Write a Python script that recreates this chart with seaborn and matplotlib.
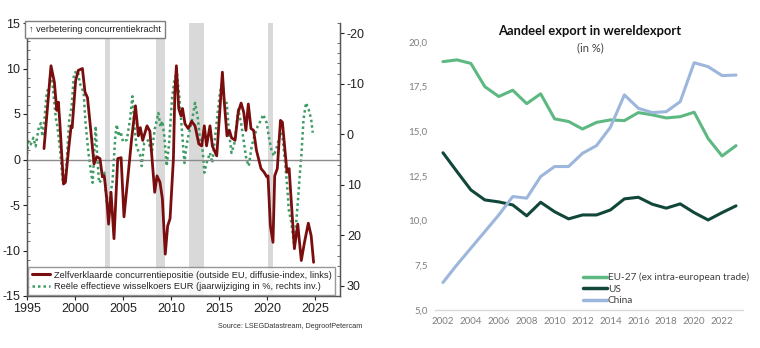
import numpy as np
import pandas as pd
import matplotlib
matplotlib.use('Agg')
import matplotlib.pyplot as plt
import seaborn as sns
from matplotlib.lines import Line2D
from matplotlib.ticker import MultipleLocator, FuncFormatter

# ---------------- Left panel data ----------------
red_t = [1996.77, 1997.5, 1997.85, 1998.1, 1998.27, 1998.44, 1998.8, 1999.0, 1999.3, 1999.6,
         1999.7, 2000.07, 2000.35, 2000.77, 2001.04, 2001.3, 2001.7, 2001.98, 2002.26, 2002.6,
         2002.85, 2003.05, 2003.3, 2003.5, 2003.75, 2004.06, 2004.45, 2004.8, 2005.1, 2005.56,
         2005.9, 2006.3, 2006.6, 2006.8, 2007.05, 2007.5, 2007.8, 2008.0, 2008.3, 2008.54,
         2008.85, 2009.1, 2009.4, 2009.65, 2009.9, 2010.25, 2010.4, 2010.56, 2010.8, 2011.04,
         2011.2, 2011.46, 2011.8, 2012.15, 2012.5, 2012.9, 2013.2, 2013.47, 2013.7, 2014.06,
         2014.3, 2014.76, 2015.1, 2015.35, 2015.55, 2015.83, 2016.08, 2016.3, 2016.67, 2017.0,
         2017.3, 2017.57, 2017.8, 2018.05, 2018.33, 2018.6, 2018.9, 2019.375, 2019.7, 2019.97,
         2020.1, 2020.35, 2020.62, 2020.8, 2021.07, 2021.4, 2021.6, 2022.08, 2022.3, 2022.85,
         2023.2, 2023.57, 2023.9, 2024.3, 2024.6, 2024.85]
red_v = [1.2, 10.3, 8.5, 5.4, 6.3, 3.7, -2.7, -2.5, 0.8, 3.7,
         3.5, 8.7, 9.8, 10.0, 7.4, 6.8, 2.6, -0.5, 0.3, 0.1,
         -1.9, -1.8, -4.3, -7.1, -3.6, -8.7, 0.1, 0.2, -6.3, -1.4,
         2.3, 5.9, 2.6, 3.5, 2.1, 3.7, 3.1, 0.4, -3.6, -1.8,
         -2.5, -4.3, -10.4, -7.3, -6.5, 0.1, 7.4, 10.3, 5.6, 4.8,
         5.6, 3.9, 3.4, 4.2, 3.7, 1.7, 1.5, 3.7, 1.5, 3.7,
         1.5, 0.4, 5.6, 9.6, 6.3, 2.6, 3.2, 2.4, 2.1, 5.2,
         6.2, 5.2, 3.2, 6.1, 3.4, 3.2, 1.0, -1.0, -1.4, -1.9,
         -1.8, -7.3, -9.1, -1.8, -1.0, 4.3, 4.1, -1.4, -1.0, -9.8,
         -7.1, -11.1, -9.1, -7.0, -8.4, -11.3]

green_t = [1995.0, 1995.14, 1995.4, 1995.66, 1995.9, 1996.25, 1996.46, 1996.6, 1996.8, 1997.05,
           1997.3, 1997.5, 1997.75, 1998.0, 1998.16, 1998.44, 1998.7, 1998.9, 1999.1, 1999.4,
           1999.65, 1999.9, 2000.3, 2000.5, 2000.9, 2001.1, 2001.4, 2001.67, 2001.84, 2002.0,
           2002.15, 2002.3, 2002.5, 2002.8, 2003.05, 2003.3, 2003.55, 2003.75, 2003.9, 2004.2,
           2004.35, 2004.55, 2004.75, 2005.0, 2005.4, 2005.73, 2005.98, 2006.2, 2006.4, 2006.8,
           2006.95, 2007.2, 2007.6, 2008.0, 2008.3, 2008.68, 2008.9, 2009.1, 2009.3, 2009.55,
           2009.8, 2010.1, 2010.35, 2010.6, 2010.83, 2011.1, 2011.4, 2011.6, 2011.8, 2012.2,
           2012.5, 2012.78, 2013.02, 2013.26, 2013.47, 2013.7, 2014.06, 2014.3, 2014.6, 2014.86,
           2015.1, 2015.35, 2015.56, 2015.8, 2016.04, 2016.3, 2016.6, 2016.85, 2017.0, 2017.3,
           2017.5, 2017.85, 2018.1, 2018.4, 2018.67, 2019.03, 2019.4, 2019.6, 2019.97, 2020.17,
           2020.45, 2020.7, 2021.04, 2021.4, 2021.6, 2021.85, 2022.1, 2022.26, 2022.53, 2022.8,
           2022.95, 2023.23, 2023.4, 2023.57, 2023.8, 2024.06, 2024.34, 2024.6, 2024.76]
green_v = [4.0, 1.4, 2.0, 0.7, 2.4, -1.6, -2.2, 0.4, -2.6, -8.2,
           -9.5, -12.8, -8.2, -3.2, -1.6, 3.0, 9.0, 9.6, 6.3, -2.9,
           -5.5, -12.1, -12.5, -10.1, -8.2, -2.2, 3.7, 7.6, 9.6, 3.7,
           -1.6, 3.7, 9.6, 9.0, 7.6, 13.6, 14.5, 11.0, 9.6, 0.4,
           -1.9, 0.4, -0.5, 1.5, 1.1, -2.9, -7.5, -1.4, 2.4, 4.3,
           6.3, 1.8, 1.2, 3.7, -1.0, -4.2, -1.5, -2.6, 0.4, 6.3,
           1.8, -6.9, -10.8, -12.1, -8.2, -1.6, 5.7, 2.4, 0.4, -2.9,
           -6.2, -3.4, 1.1, 2.4, 7.6, 5.7, 3.7, 5.7, 0.4, -4.2,
           -8.2, -10.5, -6.2, -6.2, -0.3, 3.7, 1.8, -2.2, -4.9, -2.2,
           0.4, 5.0, 6.3, 2.4, 0.4, -1.6, -2.9, -3.9, -2.2, 0.4,
           3.0, 4.3, 2.4, -0.3, 0.4, 5.0, 10.3, 14.9, 17.5, 21.5,
           19.5, 12.9, 8.3, 4.3, -2.9, -6.2, -4.9, -2.9, -0.3]

band_start = [2003.1, 2008.4, 2011.9, 2020.1]
band_end = [2003.6, 2009.4, 2013.4, 2020.6]

left_xticks = [1995, 2000, 2005, 2010, 2015, 2020, 2025]
left_yticks = [-15, -10, -5, 0, 5, 10, 15]
right_yticks = [-20, -10, 0, 10, 20, 30]

red_label = "Zelfverklaarde concurrentiepositie (outside EU, diffusie-index, links)"
green_label = "Reële effectieve wisselkoers EUR (jaarwijziging in %, rechts inv.)"

# ---------------- Right panel data ----------------
years = list(range(2002, 2024))
eu27 = [18.9, 19.0, 18.8, 17.5, 16.95, 17.3, 16.55, 17.1, 15.7, 15.55, 15.13,
        15.5, 15.64, 15.6, 16.05, 15.92, 15.75, 15.82, 16.07, 14.6, 13.62, 14.2]
us = [13.8, 12.75, 11.72, 11.16, 11.05, 10.88, 10.27, 11.03, 10.5, 10.1, 10.32,
      10.32, 10.6, 11.22, 11.31, 10.92, 10.7, 10.94, 10.45, 10.04, 10.45, 10.83]
china = [6.54, 7.53, 8.46, 9.39, 10.32, 11.35, 11.26, 12.47, 13.03, 13.03, 13.77,
         14.2, 15.23, 17.04, 16.29, 16.05, 16.1, 16.66, 18.84, 18.62, 18.12, 18.15]
series_names = ["EU-27 (ex intra-european trade)", "US", "China"]
series_colors = ["#5db882", "#11473a", "#9db6dc"]
right_yticks_r = [5.0, 7.5, 10.0, 12.5, 15.0, 17.5, 20.0]
right_xticks_r = list(range(2002, 2023, 2))

# ---------------- Styling ----------------
sns.set_theme(style="ticks")
NARROW = ['Liberation Sans', 'DejaVu Sans']
CAL = ['Lato', 'DejaVu Sans']
plt.rcParams['font.family'] = NARROW
plt.rcParams['axes.unicode_minus'] = False

fig = plt.figure(figsize=(7.6, 3.48), dpi=100)
fig.patch.set_facecolor('white')

W, H = 760.0, 348.0
ax1 = fig.add_axes([27 / W, 1 - 296 / H, 313 / W, 273 / H])
ax2 = ax1.twinx()
ax1.set_zorder(ax2.get_zorder() + 1)
ax1.patch.set_visible(False)

for a, b in zip(band_start, band_end):
    ax2.axvspan(a, b, color='#d9d9d9', lw=0, zorder=0)

df_green = pd.DataFrame({'t': green_t, 'r': green_v})
sns.lineplot(data=df_green, x='t', y='r', ax=ax2, color='#3f9c66', lw=1.8,
             linestyle=(0, (1, 1.2)), estimator=None, sort=False, zorder=2)

ax1.axhline(0, color='#8c8c8c', lw=1, zorder=1)
df_red = pd.DataFrame({'t': red_t, 'v': red_v})
sns.lineplot(data=df_red, x='t', y='v', ax=ax1, color='#7a0e0e', lw=2.0,
             estimator=None, sort=False, zorder=3)

ax1.set_xlim(1995, 2027.6)
ax1.set_ylim(-15, 15)
ax2.set_ylim(32, -22)
ax1.set_xticks(left_xticks)
ax1.set_yticks(left_yticks)
ax1.yaxis.set_minor_locator(MultipleLocator(1))
ax2.set_yticks(right_yticks)
ax2.yaxis.set_minor_locator(MultipleLocator(2))
ax1.set_xlabel('')
ax1.set_ylabel('')
ax2.set_xlabel('')
ax2.set_ylabel('')

for a in (ax1, ax2):
    a.spines['top'].set_visible(False)
    for s in ['left', 'right', 'bottom']:
        a.spines[s].set_color('#555555')
        a.spines[s].set_linewidth(0.9)
ax1.tick_params(axis='both', which='major', direction='out', length=3, width=0.8,
                labelsize=9, colors='#222222', pad=2)
ax1.tick_params(axis='y', which='minor', direction='in', length=2, width=0.6, color='#555555')
ax2.tick_params(axis='y', which='major', direction='out', length=3, width=0.8,
                labelsize=9, colors='#222222', pad=2)
ax2.tick_params(axis='y', which='minor', direction='in', length=2, width=0.6, color='#555555')

ax1.text(0.006, 0.994, "\u2191 verbetering concurrentiekracht", transform=ax1.transAxes,
         ha='left', va='top', fontsize=6.6, color='#222222', family=NARROW, zorder=6,
         bbox=dict(boxstyle='square,pad=0.45', fc='white', ec='#7f7f7f', lw=1))

handles = [Line2D([0], [0], color='#7a0e0e', lw=2.2),
           Line2D([0], [0], color='#3f9c66', lw=1.8, linestyle=(0, (1, 1.2)))]
leg = ax1.legend(handles, [red_label, green_label], loc='lower left',
                 bbox_to_anchor=(0.0, 0.0), fontsize=6.7, frameon=True, fancybox=False,
                 handlelength=2.0, handletextpad=0.4, labelspacing=0.3,
                 borderpad=0.35, borderaxespad=0.15)
leg.get_frame().set_edgecolor('#7f7f7f')
leg.get_frame().set_linewidth(1)
leg.set_zorder(7)

fig.text(362 / W, 1 - 327 / H, "Source: LSEGDatastream, DegroofPetercam", ha='right',
         va='center', fontsize=5.2, color='#333333', family=NARROW)

# ---------------- Right panel ----------------
ax3 = fig.add_axes([434.6 / W, 1 - 310 / H, 308.4 / W, 268 / H])
df_long = pd.DataFrame({
    'year': years * 3,
    'value': eu27 + us + china,
    'series': [series_names[0]] * len(years) + [series_names[1]] * len(years) + [series_names[2]] * len(years),
})
sns.lineplot(data=df_long, x='year', y='value', hue='series', hue_order=series_names,
             palette=series_colors, ax=ax3, lw=2.2, legend=False, estimator=None)
ax3.set_xlim(2001.4, 2023.5)
ax3.set_ylim(5, 20)
ax3.set_yticks(right_yticks_r)
ax3.set_xticks(right_xticks_r)
ax3.yaxis.set_major_formatter(FuncFormatter(lambda v, p: f"{v:.1f}".replace('.', ',')))
ax3.set_xlabel('')
ax3.set_ylabel('')
for s in ['top', 'left', 'right']:
    ax3.spines[s].set_visible(False)
ax3.spines['bottom'].set_color('#d9d9d9')
ax3.spines['bottom'].set_linewidth(1)
ax3.tick_params(axis='both', length=0, labelsize=7, colors='#7f7f7f', pad=5)
for lab in ax3.get_xticklabels() + ax3.get_yticklabels():
    lab.set_family(CAL)

fig.text(590 / W, 1 - 31 / H, "Aandeel export in wereldexport", ha='center', va='center',
         fontsize=9.3, weight='bold', color='#111111', family=CAL)
fig.text(590 / W, 1 - 48 / H, "(in %)", ha='center', va='center',
         fontsize=8, color='#404040', family=CAL)

h3 = [Line2D([0], [0], color=c, lw=2.5) for c in series_colors]
leg3 = ax3.legend(h3, series_names, loc='lower left', bbox_to_anchor=(583 / W, 1 - 305 / H),
                  bbox_transform=fig.transFigure, frameon=False, fontsize=7.2,
                  handlelength=2.4, handletextpad=0.1, labelspacing=0.25,
                  borderpad=0, borderaxespad=0)
for t in leg3.get_texts():
    t.set_color('#404040')
    t.set_family(CAL)

fig.savefig('out.png', dpi=100, facecolor='white')
